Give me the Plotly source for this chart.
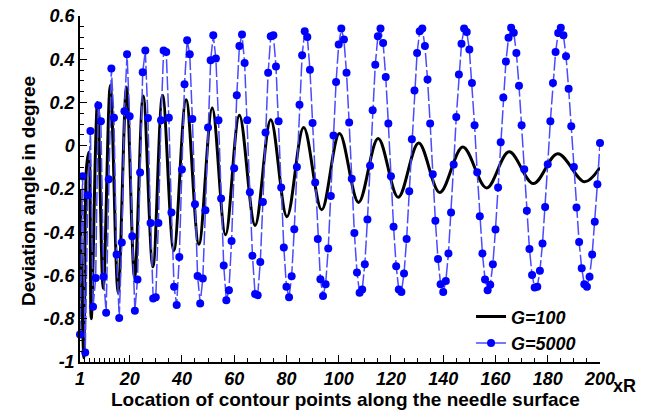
import plotly.graph_objects as go

# ---------------- data ----------------
# G=100 : smooth curve through its read-off extrema (x = contour point location)
g100_x = [1, 2.5, 3.5, 4.4, 5.3, 7.7, 9.9, 12.6, 15.6, 18.8, 21.9, 25.2, 28.9, 32.6,
          36.9, 41.6, 46.5, 51.6, 56.7, 62, 68, 74, 80.2, 86.6, 93.5, 100.3, 107.6,
          115.1, 122.8, 130.6, 138.7, 147.5, 156.6, 165.2, 174.5, 183.8, 194.1, 200]
g100_y = [-0.20, -0.98, -0.10, -0.03, -0.80, 0.20, -0.66, 0.28, -0.68, 0.27, -0.61, 0.23,
          -0.56, 0.233, -0.485, 0.213, -0.455, 0.174, -0.412, 0.141, -0.368, 0.12, -0.328,
          0.084, -0.296, 0.057, -0.262, 0.034, -0.238, 0.013, -0.216, -0.006, -0.195,
          -0.028, -0.175, -0.037, -0.167, -0.10]

# G=5000 : one value per contour point 1..200
g5000_x = list(range(1, 201))
g5000_y = [
    -0.873, -0.141, -0.956, -0.229, 0.068, -0.745, -0.611, 0.186, 0.113, -0.606,
    -0.772, -0.155, 0.357, 0.130, -0.503, -0.796, -0.447, 0.159, 0.423, 0.136,
    -0.418, -0.763, -0.618, -0.124, 0.340, 0.441, 0.128, -0.357, -0.706, -0.701,
    -0.357, 0.118, 0.441, 0.433, 0.130, -0.309, -0.652, -0.736, -0.514, -0.110,
    0.284, 0.488, 0.423, 0.124, -0.270, -0.602, -0.729, -0.614, -0.298, 0.084,
    0.395, 0.511, 0.404, 0.118, -0.244, -0.554, -0.714, -0.668, -0.441, -0.104,
    0.233, 0.461, 0.515, 0.383, 0.118, -0.215, -0.509, -0.686, -0.691, -0.537,
    -0.260, 0.061, 0.338, 0.506, 0.511, 0.367, 0.113, -0.193, -0.470, -0.652,
    -0.701, -0.603, -0.386, -0.098, 0.190, 0.418, 0.529, 0.503, 0.352, 0.105,
    -0.170, -0.431, -0.617, -0.695, -0.640, -0.475, -0.232, 0.047, 0.295, 0.468,
    0.542, 0.491, 0.337, 0.107, -0.153, -0.403, -0.586, -0.680, -0.665, -0.548,
    -0.341, -0.093, 0.164, 0.375, 0.506, 0.542, 0.475, 0.318, 0.103, -0.141,
    -0.375, -0.557, -0.665, -0.676, -0.591, -0.431, -0.210, 0.030, 0.256, 0.429,
    0.529, 0.542, 0.461, 0.306, 0.103, -0.132, -0.347, -0.524, -0.641, -0.676,
    -0.625, -0.498, -0.309, -0.087, 0.133, 0.329, 0.472, 0.542, 0.526, 0.445,
    0.290, 0.095, -0.122, -0.326, -0.498, -0.618, -0.668, -0.643, -0.548, -0.387,
    -0.193, 0.016, 0.223, 0.390, 0.500, 0.546, 0.523, 0.429, 0.278, 0.095,
    -0.109, -0.301, -0.477, -0.598, -0.655, -0.652, -0.578, -0.452, -0.283, -0.085,
    0.113, 0.290, 0.433, 0.521, 0.546, 0.511, 0.414, 0.264, 0.090, -0.098,
    -0.286, -0.445, -0.567, -0.640, -0.652, -0.606, -0.503, -0.352, -0.178, 0.013,
]

# ticks
x_tick_vals = [1, 20, 40, 60, 80, 100, 120, 140, 160, 180, 200]
x_tick_text = ["1", "20", "40", "60", "80", "100", "120", "140", "160", "180", "200"]
x_minor_first = [2.9, 4.8, 6.7, 8.6, 10.5, 12.4, 14.3, 16.2, 18.1]
x_minor_rest = [v for v in range(25, 200, 5) if v % 20 != 0]
y_tick_vals = [-1, -0.8, -0.6, -0.4, -0.2, 0, 0.2, 0.4, 0.6]
y_tick_text = ["-1", "-0.8", "-0.6", "-0.4", "-0.2", "0", "0.2", "0.4", "0.6"]
series_names = ["G=100", "G=5000"]

FONT = "Liberation Sans, Arial, sans-serif"


def bi(s):
    return "<b><i>%s</i></b>" % s


fig = go.Figure()
fig.add_trace(go.Scatter(
    x=g100_x, y=g100_y, mode="lines", name=bi(series_names[0]),
    line=dict(color="black", width=3, shape="spline", smoothing=1.0),
    cliponaxis=False,
))
fig.add_trace(go.Scatter(
    x=g5000_x, y=g5000_y, mode="lines+markers", name=bi(series_names[1]),
    line=dict(color="#4a4aff", width=1.5, dash="14px,3px"),
    marker=dict(color="#0000ff", size=8, symbol="circle"),
    cliponaxis=False,
))

tickfont = dict(family=FONT, size=18, color="black")

# the page body adds an 8px offset, so the figure is 8px smaller than the window
fig.update_layout(
    width=641, height=402,
    margin=dict(l=72, r=49, t=8, b=48, autoexpand=False),
    paper_bgcolor="white", plot_bgcolor="white",
    showlegend=True,
    legend=dict(x=0.752, y=0.184, xanchor="left", yanchor="top",
                bgcolor="rgba(0,0,0,0)", borderwidth=0,
                font=dict(family=FONT, size=18, color="black"),
                tracegroupgap=0),
    xaxis=dict(range=[1, 200], tickmode="array", tickvals=x_tick_vals,
               ticktext=[bi(t) for t in x_tick_text], automargin=False,
               ticklabeloverflow="allow",
               ticks="inside", ticklen=7, tickwidth=1, tickcolor="black",
               showline=True, linecolor="black", linewidth=1.5, mirror=False,
               showgrid=False, zeroline=False, tickfont=tickfont,
               minor=dict(tickmode="array", tickvals=x_minor_first + x_minor_rest,
                          ticks="inside", ticklen=4, tickwidth=1, tickcolor="black",
                          showgrid=False)),
    yaxis=dict(range=[-1, 0.6], tickmode="array", tickvals=y_tick_vals,
               ticktext=[bi(t) for t in y_tick_text], automargin=False,
               ticklabeloverflow="allow",
               ticks="inside", ticklen=7, tickwidth=1, tickcolor="black",
               showline=True, linecolor="black", linewidth=1.5, mirror=False,
               showgrid=False, zeroline=False, tickfont=tickfont,
               minor=dict(dtick=0.05, tick0=0, ticks="inside", ticklen=4, tickwidth=1,
                          tickcolor="black", showgrid=False)),
    annotations=[
        dict(text="<b>Location of contour points along the needle surface</b>",
             xref="paper", yref="paper", x=0.51, y=-0.108, xanchor="center", yanchor="middle",
             showarrow=False, font=dict(family=FONT, size=19, color="black")),
        dict(text="<b>xR</b>", xref="paper", yref="paper", x=1.048, y=-0.069,
             xanchor="center", yanchor="middle", showarrow=False,
             font=dict(family=FONT, size=18, color="black")),
        dict(text="<b>Deviation angle in degree</b>", xref="paper", yref="paper",
             x=-0.1, y=0.494, xanchor="center", yanchor="middle", textangle=-90,
             showarrow=False, font=dict(family=FONT, size=19, color="black")),
    ],
)

fig.write_html("out.html")
